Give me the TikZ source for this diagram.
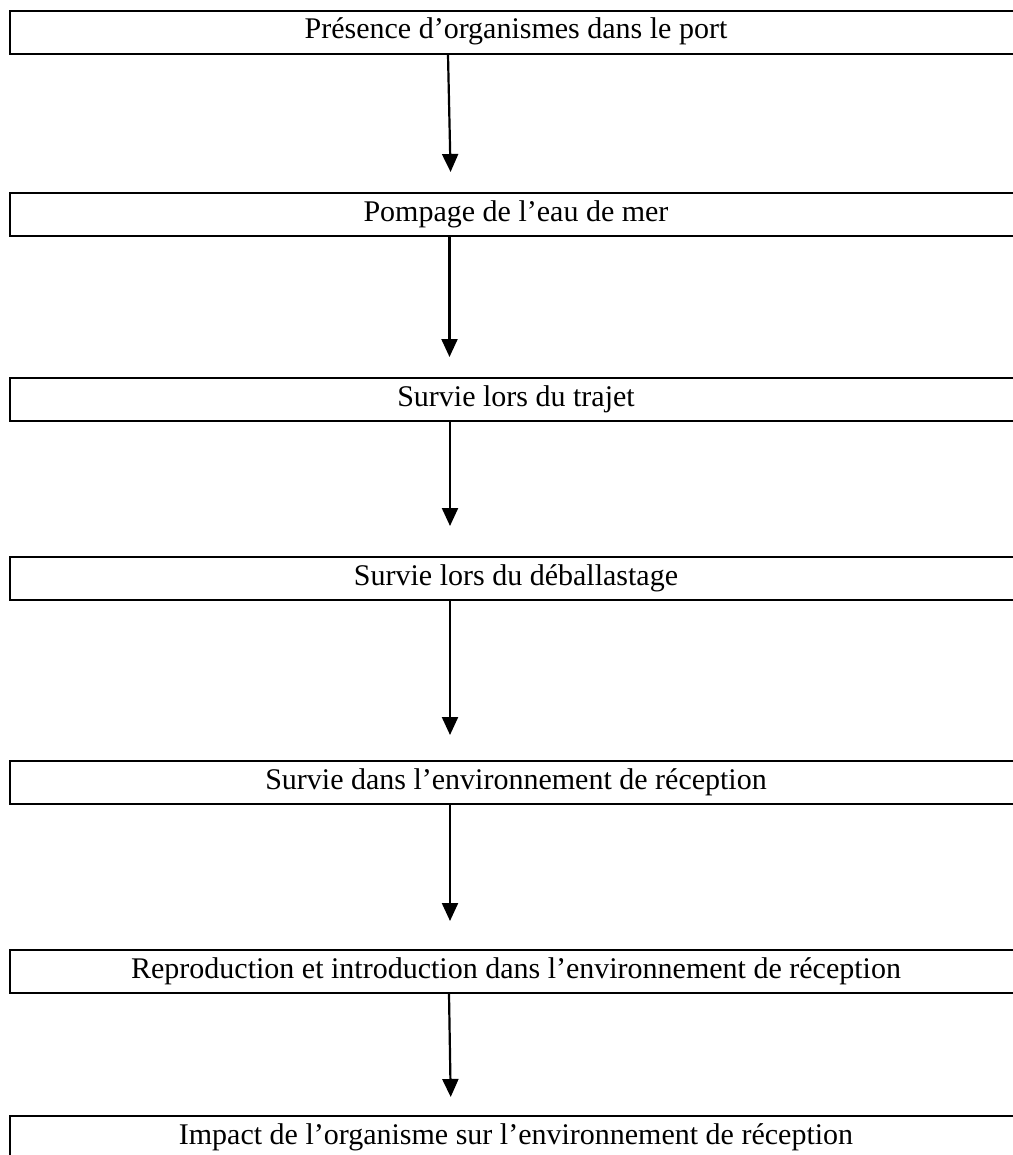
\documentclass[tikz,border=0pt]{standalone}
\usepackage{fontspec}
\setmainfont{Liberation Serif}
\usetikzlibrary{arrows.meta, positioning}

\begin{document}
\begin{tikzpicture}[
        stage/.style={rectangle, draw=black, line width=1pt, minimum width=506pt, inner sep=0pt, text height=14pt, text depth=7.5pt, font=\fontsize{15pt}{18pt}\selectfont},
        arr/.style={-{Triangle[width=8pt, length=9pt]}, line width=1.1pt, black}
      ]
        \useasboundingbox (0,0) rectangle (506pt,-577.5pt);
        \node[stage, anchor=north] (pres) at (258pt,-5pt) {Présence d’organismes dans le port};
        \node[stage, below=68.5pt of pres] (pomp) {Pompage de l’eau de mer};
        \node[stage, below=70pt of pomp] (traj) {Survie lors du trajet};
        \node[stage, below=67pt of traj] (deb) {Survie lors du déballastage};
        \node[stage, below=79.5pt of deb] (env) {Survie dans l’environnement de réception};
        \node[stage, below=72pt of env] (repr) {Reproduction et introduction dans l’environnement de réception};
        \node[stage, below=60.5pt of repr] (imp) {Impact de l’organisme sur l’environnement de réception};

        \draw[arr, shorten >=10pt] ([xshift=-34pt]pres.south) -- ([xshift=-32.5pt]pomp.north);
        \draw[arr, shorten >=10pt] ([xshift=-33.25pt]pomp.south) -- ([xshift=-33.25pt]traj.north);
        \draw[arr, shorten >=15pt] ([xshift=-33pt]traj.south) -- ([xshift=-33pt]deb.north);
        \draw[arr, shorten >=12.5pt] ([xshift=-33pt]deb.south) -- ([xshift=-33pt]env.north);
        \draw[arr, shorten >=14pt] ([xshift=-33pt]env.south) -- ([xshift=-33pt]repr.north);
        \draw[arr, shorten >=9pt] ([xshift=-33.5pt]repr.south) -- ([xshift=-32.5pt]imp.north);
      \end{tikzpicture}
\end{document}
